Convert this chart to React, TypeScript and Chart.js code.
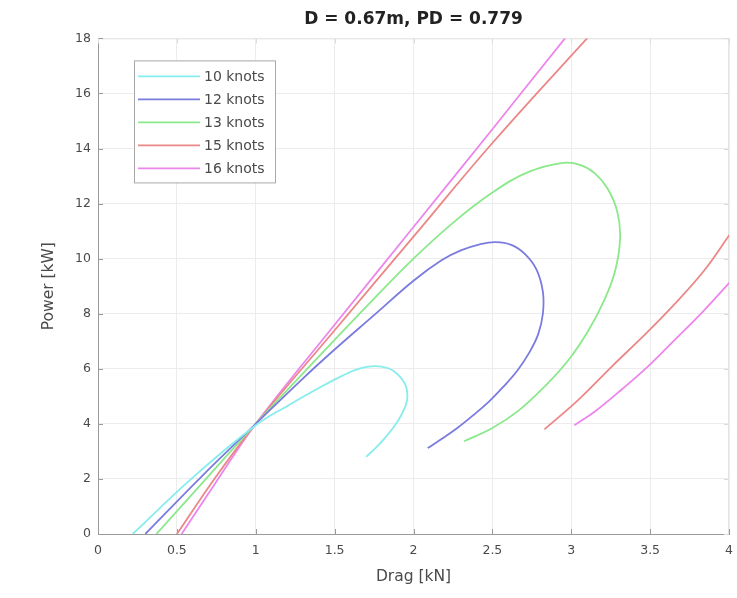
import React, { useEffect, useRef } from 'react';
import { Chart, registerables } from 'chart.js';

Chart.register(...registerables);

const TITLE = 'D = 0.67m, PD = 0.779';
const X_LABEL = 'Drag [kN]';
const Y_LABEL = 'Power [kW]';

const X_MIN = 0;
const X_MAX = 4;
const X_STEP = 0.5;
const Y_MIN = 0;
const Y_MAX = 18;
const Y_STEP = 2;

const SERIES_LABELS = ['10 knots', '12 knots', '13 knots', '15 knots', '16 knots'];
const SERIES_COLORS = ['#86ecec', '#7b7be0', '#8be88b', '#ec8787', '#ec86ec'];

// 10 knots
const drag10 = [0.22, 0.6, 1.0, 1.2, 1.4, 1.55, 1.65, 1.75, 1.84, 1.9, 1.95, 1.96, 1.93, 1.87, 1.79, 1.7];
const power10 = [0, 2.05, 3.95, 4.65, 5.3, 5.75, 6.0, 6.1, 6.02, 5.8, 5.4, 4.9, 4.4, 3.85, 3.3, 2.8];

// 12 knots
const drag12 = [0.3, 0.65, 1.0, 1.29, 1.5, 1.75, 2.0, 2.18, 2.3, 2.42, 2.52, 2.62, 2.71, 2.78, 2.82, 2.82, 2.79, 2.73, 2.66, 2.57, 2.48, 2.38, 2.28, 2.18, 2.09];
const power12 = [0, 2.05, 4.0, 5.6, 6.7, 7.95, 9.2, 9.95, 10.3, 10.52, 10.6, 10.5, 10.15, 9.6, 8.8, 8.0, 7.25, 6.55, 5.95, 5.35, 4.82, 4.32, 3.86, 3.46, 3.12];

// 13 knots
const drag13 = [0.37, 0.7, 1.0, 1.5, 1.75, 2.0, 2.25, 2.5, 2.73, 2.95, 3.06, 3.15, 3.23, 3.29, 3.31, 3.28, 3.21, 3.11, 2.98, 2.83, 2.67, 2.5, 2.32];
const power13 = [0, 2.1, 4.0, 7.05, 8.55, 10.0, 11.3, 12.4, 13.15, 13.48, 13.4, 13.1, 12.55, 11.75, 10.8, 9.6, 8.5, 7.4, 6.3, 5.35, 4.5, 3.85, 3.37];

// 15 knots (leaves the plot at the top, re-enters at the right)
const drag15 = [0.5, 0.75, 1.0, 1.5, 2.0, 2.5, 3.1, 3.2, null, 4.15, 4.02, 3.84, 3.64, 3.45, 3.26, 3.05, 2.83];
const power15 = [0, 2.1, 4.0, 7.4, 10.8, 14.2, 18, 18.6, null, 12.0, 11.0, 9.55, 8.26, 7.15, 6.1, 4.9, 3.8];

// 16 knots
const drag16 = [0.53, 0.75, 1.0, 1.5, 2.0, 2.5, 2.96, 3.05, null, 4.2, 4.02, 3.83, 3.64, 3.48, 3.32, 3.15, 3.02];
const power16 = [0, 1.9, 4.0, 7.6, 11.15, 14.7, 18, 18.6, null, 10.4, 9.24, 8.05, 6.96, 6.05, 5.25, 4.45, 3.95];

const SERIES_X = [drag10, drag12, drag13, drag15, drag16];
const SERIES_Y = [power10, power12, power13, power15, power16];

const FONT = '"DejaVu Sans", sans-serif';
const AXIS_COLOR = '#9a9a9a';
const FRAME_LIGHT = '#e4e4e4';
const GRID_COLOR = '#ececec';
const TEXT_COLOR = '#4a4a4a';

const fmt = (v: any) => String(Math.round(Number(v) * 100) / 100);

const framePlugin = {
  id: 'matlabFrame',
  beforeDatasetsDraw(chart: any) {
    const { ctx, chartArea } = chart;
    const { left, right, top, bottom } = chartArea;
    const xs = chart.scales.x;
    const ys = chart.scales.y;
    ctx.save();
    ctx.lineWidth = 1;
    ctx.strokeStyle = FRAME_LIGHT;
    ctx.beginPath();
    ctx.moveTo(left, top + 0.5);
    ctx.lineTo(right, top + 0.5);
    ctx.moveTo(right - 0.5, top);
    ctx.lineTo(right - 0.5, bottom);
    ctx.stroke();
    const tl = 5;
    ctx.strokeStyle = AXIS_COLOR;
    ctx.beginPath();
    xs.ticks.forEach((t: any) => {
      const px = Math.round(xs.getPixelForValue(t.value)) + 0.5;
      ctx.moveTo(px, bottom);
      ctx.lineTo(px, bottom - tl);
    });
    ys.ticks.forEach((t: any) => {
      const py = Math.round(ys.getPixelForValue(t.value)) + 0.5;
      ctx.moveTo(left, py);
      ctx.lineTo(left + tl, py);
    });
    ctx.stroke();
    ctx.strokeStyle = '#dcdcdc';
    ctx.beginPath();
    xs.ticks.forEach((t: any) => {
      const px = Math.round(xs.getPixelForValue(t.value)) + 0.5;
      ctx.moveTo(px, top);
      ctx.lineTo(px, top + tl);
    });
    ys.ticks.forEach((t: any) => {
      const py = Math.round(ys.getPixelForValue(t.value)) + 0.5;
      ctx.moveTo(right, py);
      ctx.lineTo(right - tl, py);
    });
    ctx.stroke();
    ctx.restore();
  },
  afterDraw(chart: any) {
    const { ctx, chartArea } = chart;
    const bx = chartArea.left + 36;
    const by = chartArea.top + 22;
    const bw = 141;
    const bh = 122;
    ctx.save();
    ctx.fillStyle = '#ffffff';
    ctx.fillRect(bx, by, bw, bh);
    ctx.strokeStyle = '#a8a8a8';
    ctx.lineWidth = 1;
    ctx.strokeRect(bx + 0.5, by + 0.5, bw, bh);
    ctx.font = `14px ${FONT}`;
    ctx.textBaseline = 'middle';
    ctx.textAlign = 'left';
    chart.data.datasets.forEach((ds: any, i: number) => {
      const y = by + 16 + i * 23;
      ctx.strokeStyle = ds.borderColor;
      ctx.lineWidth = 1.8;
      ctx.beginPath();
      ctx.moveTo(bx + 4, y);
      ctx.lineTo(bx + 66, y);
      ctx.stroke();
      ctx.fillStyle = TEXT_COLOR;
      ctx.fillText(ds.label, bx + 70, y + 0.5);
    });
    ctx.restore();
  },
};

export default function App() {
  const canvasRef = useRef<HTMLCanvasElement | null>(null);

  useEffect(() => {
    document.body.style.margin = '0';
    const canvas = canvasRef.current;
    if (!canvas) return;

    const datasets = SERIES_LABELS.map((label, i) => ({
      label,
      data: SERIES_X[i].map((x, j) => ({ x, y: SERIES_Y[i][j] })),
      borderColor: SERIES_COLORS[i],
      backgroundColor: SERIES_COLORS[i],
      borderWidth: 1.8,
      pointRadius: 0,
      pointHoverRadius: 0,
      showLine: true,
      fill: false,
      tension: 0.4,
      spanGaps: false,
    }));

    const chart = new Chart(canvas, {
      type: 'scatter',
      data: { datasets },
      options: {
        animation: false,
        responsive: false,
        maintainAspectRatio: false,
        layout: { padding: { left: 0, right: 8, top: 0, bottom: 0 } },
        plugins: {
          legend: { display: false },
          tooltip: { enabled: false },
          title: {
            display: true,
            text: TITLE,
            fullSize: false,
            color: '#222222',
            font: { family: FONT, size: 17, weight: 'bold' },
            padding: { top: 9, bottom: 9 },
          },
        },
        scales: {
          x: {
            type: 'linear',
            min: X_MIN,
            max: X_MAX,
            ticks: {
              stepSize: X_STEP,
              color: TEXT_COLOR,
              font: { family: FONT, size: 12.5 },
              padding: 9,
              maxRotation: 0,
              callback: (v: any) => fmt(v),
            },
            grid: { color: GRID_COLOR, drawTicks: false },
            border: { display: true, color: AXIS_COLOR, width: 1 },
            title: {
              display: true,
              text: X_LABEL,
              color: TEXT_COLOR,
              font: { family: FONT, size: 15.5 },
              padding: { top: 0, bottom: 12 },
            },
            afterFit(scale: any) {
              scale.height = 64;
              scale.paddingLeft = 0;
              scale.paddingRight = 0;
            },
          },
          y: {
            type: 'linear',
            min: Y_MIN,
            max: Y_MAX,
            ticks: {
              stepSize: Y_STEP,
              color: TEXT_COLOR,
              font: { family: FONT, size: 12.5 },
              padding: 7,
              callback: (v: any) => fmt(v),
            },
            grid: { color: GRID_COLOR, drawTicks: false },
            border: { display: true, color: AXIS_COLOR, width: 1 },
            title: {
              display: true,
              text: Y_LABEL,
              color: TEXT_COLOR,
              font: { family: FONT, size: 15.5 },
              padding: { top: 40, bottom: 0 },
            },
            afterFit(scale: any) {
              scale.width = 98;
              scale.paddingTop = 0;
              scale.paddingBottom = 0;
            },
          },
        },
      },
      plugins: [framePlugin],
    });

    return () => chart.destroy();
  }, []);

  return (
    <div style={{ width: 737, height: 598, background: '#ffffff' }}>
      <canvas ref={canvasRef} width={737} height={598} style={{ display: 'block' }} />
    </div>
  );
}
